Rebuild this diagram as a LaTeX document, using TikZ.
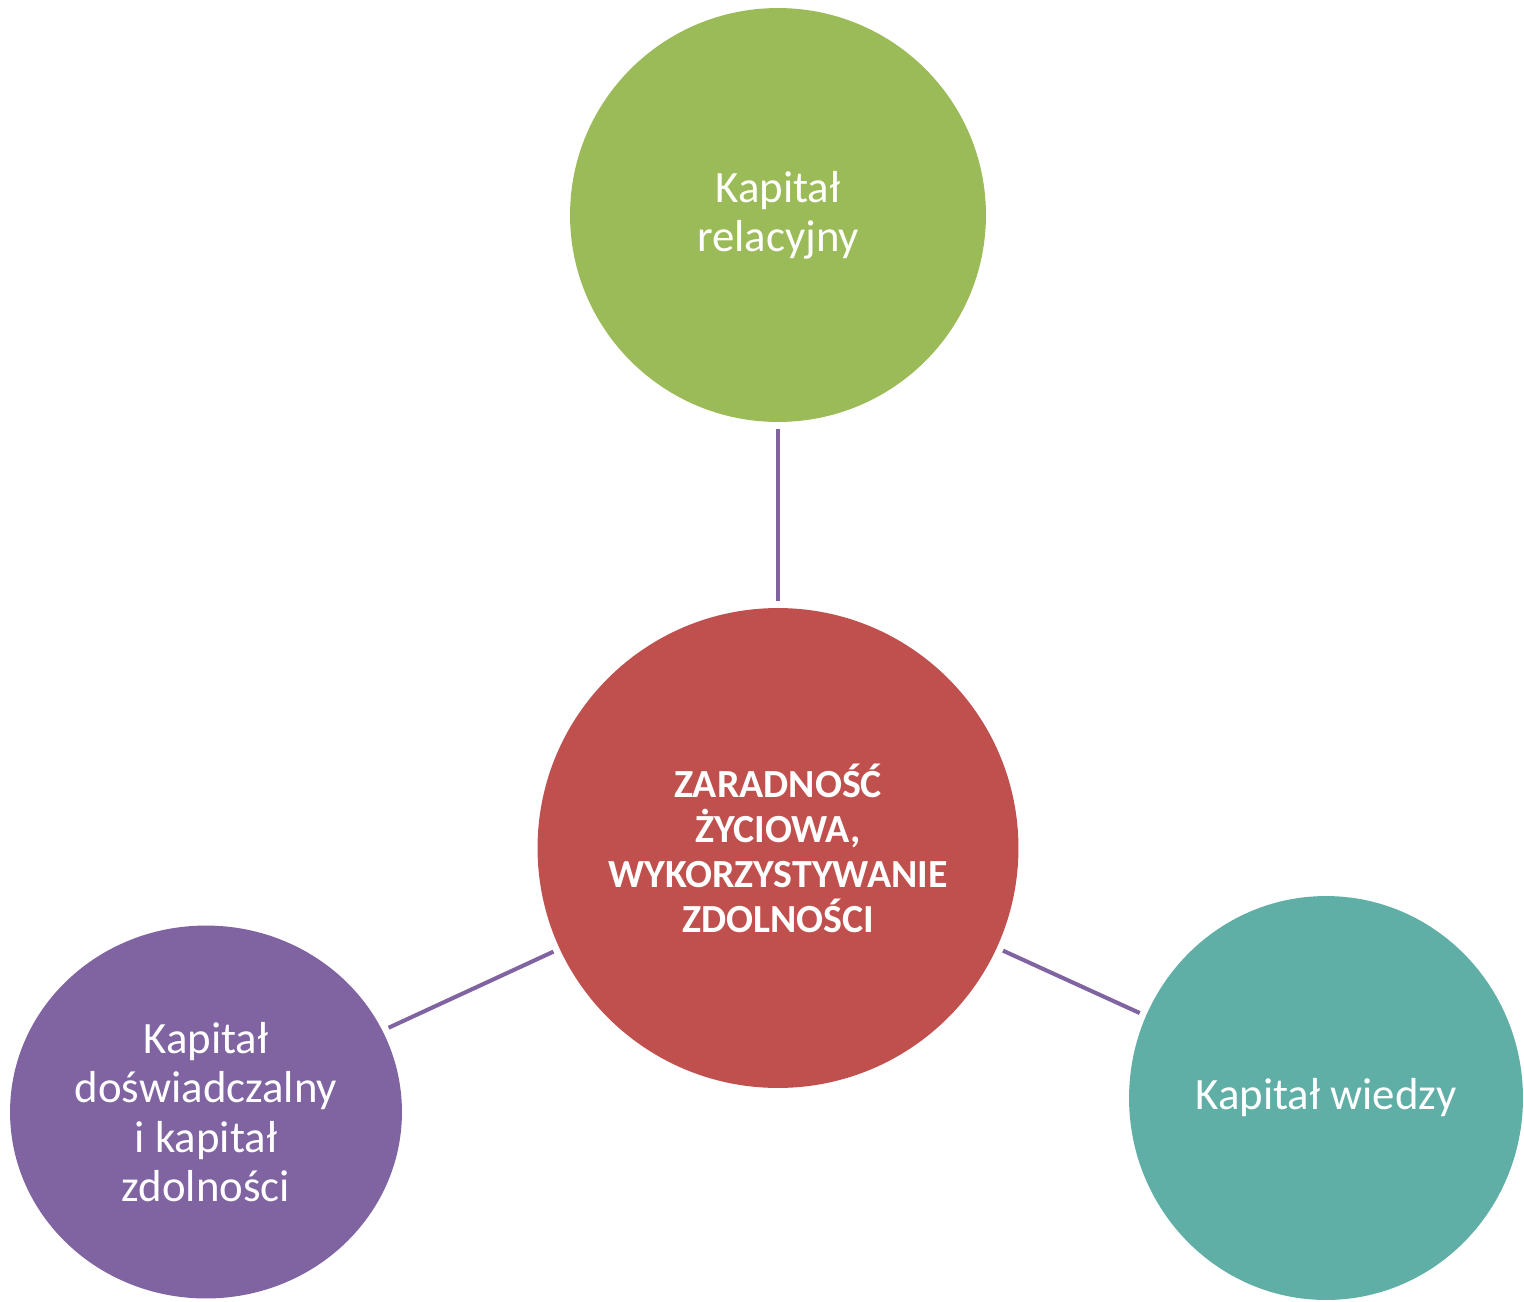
\documentclass[tikz,border=0pt]{standalone}
\usepackage{fontspec}
\setmainfont{Carlito}
\usetikzlibrary{shapes.geometric}
\definecolor{Zielony}{HTML}{9BBB59}
\definecolor{Czerwony}{HTML}{C0504D}
\definecolor{Fiolet}{HTML}{8064A2}
\definecolor{Morski}{HTML}{5FAFA6}
\begin{document}
\begin{tikzpicture}[x=0.02cm, y=-0.02cm, line width=2.3pt,
        every node/.append style={font=\fontsize{25.5}{28}\selectfont, text=white, align=center}]
      \tikzstyle{kapital} = [ellipse, inner sep=0pt]
      \tikzstyle{link} = [draw=Fiolet, shorten <=2.8pt, shorten >=2.8pt]
      \useasboundingbox (0,0) rectangle (1524,1301);
      \node (relacyjny) [kapital, fill=Zielony, minimum width=8.32cm, minimum height=8.28cm] at (778,215) {Kapitał\\relacyjny};
      \node (zaradnosc) [kapital, fill=Czerwony, minimum width=9.62cm, minimum height=9.6cm,
        font=\fontsize{22.7}{25.6}\selectfont\bfseries] at (778,848)
        {ZARADNOŚĆ\\ŻYCIOWA,\\WYKORZYSTYWANIE\\ZDOLNOŚCI};
      \node (doswiadczalny) [kapital, fill=Fiolet, minimum width=7.84cm, minimum height=7.46cm] at (206,1112)
        {Kapitał\\doświadczalny\\i kapitał\\zdolności};
      \node (wiedzy) [kapital, fill=Morski, minimum width=7.88cm, minimum height=8.08cm] at (1326,1098) {Kapitał wiedzy};
      \draw[link] (relacyjny) -- (zaradnosc);
      \draw[link] (zaradnosc) -- (doswiadczalny);
      \draw[link] (zaradnosc) -- (wiedzy);
    \end{tikzpicture}
\end{document}
